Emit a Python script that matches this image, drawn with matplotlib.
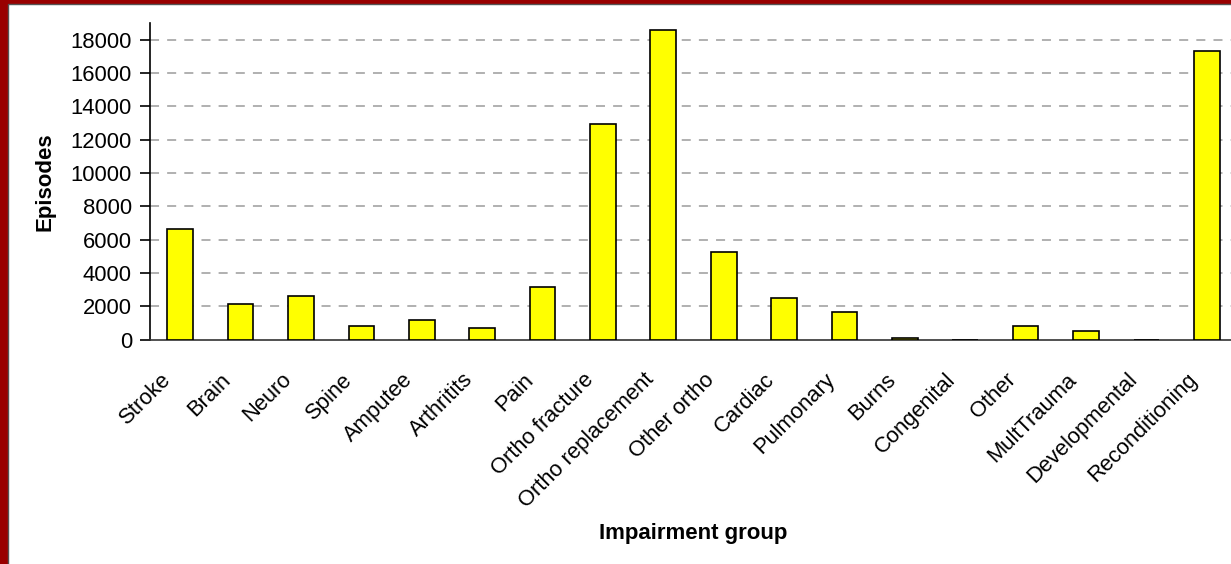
import numpy as np
import matplotlib.pyplot as plt
import matplotlib.transforms as mtransforms
from matplotlib.patches import Rectangle

plt.rcParams['font.family'] = ['Liberation Sans', 'DejaVu Sans']

# Episodes per impairment group
groups = ["Stroke", "Brain", "Neuro", "Spine", "Amputee", "Arthritits", "Pain",
          "Ortho fracture", "Ortho replacement", "Other ortho", "Cardiac",
          "Pulmonary", "Burns", "Congenital", "Other", "MultTrauma",
          "Developmental", "Reconditioning"]
episodes = [6620, 2120, 2630, 840, 1200, 680, 3140,
            12930, 18580, 5260, 2500,
            1660, 100, 0, 800, 540,
            0, 17300]
yticks = np.arange(0, 18001, 2000)

fig = plt.figure(figsize=(12.31, 5.64), dpi=100)
fig.patch.set_facecolor('#990000')
# white panel inside the dark red frame
fig.patches.append(Rectangle((8 / 1231, -0.1), 1.2, (564 - 4) / 564 + 0.1,
                             transform=fig.transFigure, facecolor='white',
                             edgecolor='#555555', linewidth=1.0, zorder=-10))

ax = fig.add_axes([150 / 1231, 1 - 339.5 / 564, 1087 / 1231, (339.5 - 23) / 564])
ax.set_facecolor('none')

x = np.arange(len(groups))
ax.bar(x, episodes, width=0.425, color='#ffff00', edgecolor='black',
       linewidth=1.2, zorder=3)

ax.set_xlim(-0.5, len(groups) - 0.5)
ax.set_ylim(0, 19000)
ax.set_yticks(yticks)
ax.set_yticklabels([str(v) for v in yticks], fontsize=15.8)
ax.set_xticks(x)
ax.set_xticklabels(groups, rotation=45, ha='right', rotation_mode='anchor',
                   fontsize=15.8)
ax.tick_params(axis='x', length=0, pad=12)
ax.tick_params(axis='y', length=7, width=1.2, pad=6)

# nudge the slanted category labels down and left
shift = mtransforms.ScaledTranslation(-0.20, -0.13, fig.dpi_scale_trans)
for lbl in ax.get_xticklabels():
    lbl.set_transform(lbl.get_transform() + shift)

for v in yticks[1:]:
    ax.axhline(v, color='#aaaaaa', linestyle=(0, (5, 4.5)), linewidth=1.3, zorder=1)

for s in ['top', 'right']:
    ax.spines[s].set_visible(False)
ax.spines['left'].set_linewidth(1.2)
ax.spines['bottom'].set_linewidth(1.2)
ax.spines['bottom'].set_color('#333333')

ax.set_ylabel("Episodes", fontsize=16, fontweight='bold', labelpad=11)
ax.set_xlabel("Impairment group", fontsize=16, fontweight='bold')
ax.xaxis.set_label_coords(0.5, -0.58)

fig.savefig("out.png", dpi=100, facecolor=fig.get_facecolor())
